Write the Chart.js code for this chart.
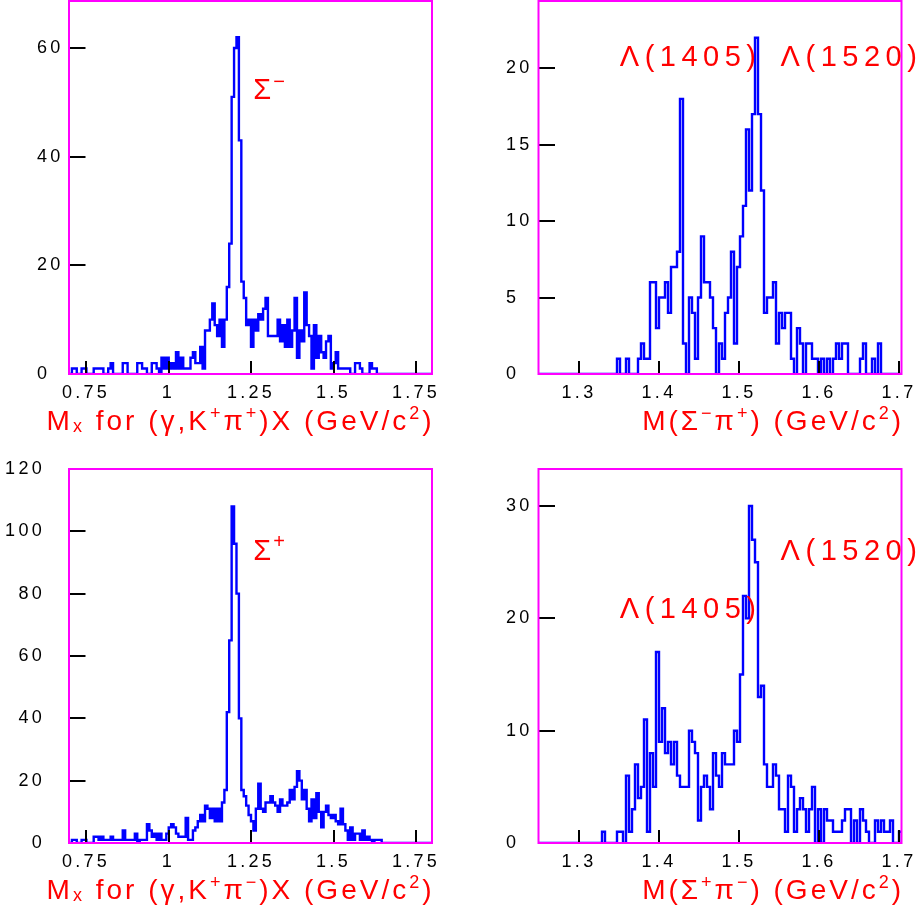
<!DOCTYPE html>
<html>
<head>
<meta charset="utf-8">
<script src="https://cdn.jsdelivr.net/npm/chart.js@4/dist/chart.umd.min.js"></script>
<style>
  html, body { margin: 0; padding: 0; background: #fff; }
  #wrap { position: relative; width: 923px; height: 913px; overflow: hidden; }
  #wrap canvas { position: absolute; }
</style>
</head>
<body>
<div id="wrap">
  <canvas id="chSmKp" width="461" height="456" style="left:0;top:0"></canvas>
  <canvas id="chSmPip" width="462" height="456" style="left:461px;top:0"></canvas>
  <canvas id="chSpKm" width="461" height="457" style="left:0;top:456px"></canvas>
  <canvas id="chSpPim" width="462" height="457" style="left:461px;top:456px"></canvas>
</div>
<script>
/* Missing mass / invariant mass histograms, redrawn with Chart.js */

// Mx panels: 150 bins from 0.7 to 1.8
var MX_MIN = 0.7, MX_MAX = 1.8, MX_NBIN = 150;
// Sigma-pi panels: bins of 3.75 MeV from 1.25
var SP_MIN = 1.25, SP_BIN = 0.00375;

// Mx for (gamma,K+pi+)X
var mxKpPip = [
  0, 1, 1, 0, 0, 1, 1, 0, 0, 0,
  1, 1, 1, 1, 0, 0, 1, 2, 0, 0,
  0, 0, 2, 2, 0, 0, 0, 0, 2, 2,
  1, 1, 0, 0, 2, 2, 1, 0, 3, 1,
  3, 1, 2, 1, 4, 1, 3, 1, 1, 1,
  3, 4, 2, 2, 5, 1, 8, 8, 10, 13,
  9, 7, 10, 5, 10, 16, 24, 51, 60, 62,
  43, 17, 14, 9, 10, 5, 10, 8, 11, 10,
  12, 14, 7, 7, 7, 7, 10, 6, 9, 5,
  10, 5, 8, 14, 3, 8, 6, 15, 9, 7,
  1, 9, 3, 7, 4, 3, 6, 7, 1, 2,
  4, 1, 1, 1, 1, 1, 0, 0, 2, 2,
  1, 0, 0, 0, 2, 1, 1, 0, 0, 0,
  0, 0, 0, 0, 0, 0, 0, 0, 0, 0,
  0, 0, 0, 0, 0, 0, 0, 0, 0, 0
];

// Mx for (gamma,K+pi-)X
var mxKpPim = [
  0, 1, 1, 0, 0, 1, 1, 0, 0, 0,
  2, 2, 1, 2, 1, 1, 1, 2, 1, 1,
  1, 1, 4, 1, 1, 1, 1, 3, 0, 1,
  1, 1, 6, 4, 2, 3, 1, 3, 1, 1,
  3, 5, 6, 5, 3, 2, 2, 2, 8, 1,
  1, 4, 5, 7, 9, 7, 12, 11, 8, 11,
  7, 11, 7, 13, 17, 42, 65, 108, 96, 80,
  40, 17, 15, 12, 9, 7, 4, 11, 19, 11,
  10, 13, 13, 15, 13, 12, 10, 14, 12, 12,
  13, 17, 14, 18, 23, 20, 14, 17, 11, 7,
  14, 8, 16, 10, 5, 10, 12, 9, 8, 9,
  7, 6, 11, 6, 4, 1, 5, 1, 3, 3,
  1, 4, 1, 2, 1, 0, 1, 1, 1, 0,
  0, 0, 0, 0, 0, 0, 0, 0, 0, 0,
  0, 0, 0, 0, 0, 0, 0, 0, 0, 0
];

// M(Sigma- pi+)
var mSmPip = [
  0, 0, 0, 0, 0, 0, 0, 0, 0, 0,
  0, 0, 0, 0, 0, 0, 0, 0, 0, 0,
  0, 0, 0, 0, 0, 0, 1, 0, 0, 1,
  0, 0, 0, 1, 2, 1, 1, 6, 6, 3,
  5, 5, 6, 4, 7, 7, 8, 18, 2, 0,
  5, 4, 1, 5, 9, 6, 6, 5, 3, 0,
  2, 1, 4, 5, 8, 2, 7, 9, 11, 16,
  12, 17, 22, 17, 12, 4, 5, 5, 6, 2,
  4, 3, 4, 4, 1, 0, 3, 2, 0, 2,
  2, 1, 1, 0, 1, 0, 1, 0, 1, 2,
  1, 2, 2, 0, 0, 0, 0, 1, 2, 0,
  0, 1, 0, 2, 0, 0, 0, 0, 0, 0,
  0
];

// M(Sigma+ pi-)
var mSpPim = [
  0, 0, 0, 0, 0, 0, 0, 0, 0, 0,
  0, 0, 0, 0, 0, 0, 0, 0, 0, 0,
  0, 1, 0, 0, 0, 0, 1, 1, 0, 6,
  1, 3, 7, 4, 5, 11, 1, 8, 5, 17,
  9, 12, 8, 9, 7, 9, 6, 5, 5, 5,
  10, 9, 8, 2, 5, 6, 5, 3, 8, 6,
  5, 8, 7, 7, 7, 10, 9, 15, 22, 20,
  30, 27, 25, 13, 14, 7, 5, 5, 7, 6,
  3, 3, 1, 6, 5, 1, 3, 4, 3, 1,
  3, 5, 0, 3, 0, 3, 2, 2, 1, 1,
  1, 2, 3, 3, 0, 2, 0, 3, 2, 1,
  0, 0, 2, 1, 2, 1, 1, 2, 0, 0,
  1
];

var mxTicks = [0.75, 1, 1.25, 1.5, 1.75];
var spTicks = [1.3, 1.4, 1.5, 1.6, 1.7];
var yTicksSmKp = [0, 20, 40, 60];
var yTicksSpKm = [0, 20, 40, 60, 80, 100, 120];
var yTicksSmPip = [0, 5, 10, 15, 20];
var yTicksSpPim = [0, 10, 20, 30];

// titulos: [texto, 'sup' | 'sub']
var tituloKpPip = [['M'], ['x', 'sub'], [' for (γ,K'], ['+', 'sup'], ['π'], ['+', 'sup'], [')X (GeV/c'], ['2', 'sup'], [')']];
var tituloKpPim = [['M'], ['x', 'sub'], [' for (γ,K'], ['+', 'sup'], ['π'], ['−', 'sup'], [')X (GeV/c'], ['2', 'sup'], [')']];
var tituloSmPip = [['M(Σ'], ['−', 'sup'], ['π'], ['+', 'sup'], [') (GeV/c'], ['2', 'sup'], [')']];
var tituloSpPim = [['M(Σ'], ['+', 'sup'], ['π'], ['−', 'sup'], [') (GeV/c'], ['2', 'sup'], [')']];

var ROJO = '#ff0000';
var AZUL = '#0000ff';
var MAGENTA = '#ff00ff';
var FUENTE = '"Liberation Sans", Arial, sans-serif';

// marco magenta y marcas de los ejes hacia adentro
var marco = {
  id: 'marco',
  beforeDraw: function (chart) { chart.ctx.letterSpacing = '3.3px'; },
  afterDatasetsDraw: function (chart) {
    var ctx = chart.ctx, a = chart.chartArea;
    var xs = chart.scales.x, ys = chart.scales.y;
    ctx.save();
    ctx.strokeStyle = '#000';
    ctx.lineWidth = 2;
    ctx.beginPath();
    xs.ticks.forEach(function (t) {
      var px = Math.round(xs.getPixelForValue(t.value));
      ctx.moveTo(px, a.bottom); ctx.lineTo(px, a.bottom - 13);
    });
    ys.ticks.forEach(function (t) {
      var py = Math.round(ys.getPixelForValue(t.value));
      ctx.moveTo(a.left, py); ctx.lineTo(a.left + 16, py);
    });
    ctx.stroke();
    ctx.strokeStyle = MAGENTA;
    ctx.lineWidth = 2;
    ctx.strokeRect(a.left - 0.5, a.top, a.right - a.left, a.bottom - a.top);
    ctx.restore();
  }
};

function dibujaTitulo(ctx, segs, right, y) {
  var grande = '28px ' + FUENTE, chica = '18px ' + FUENTE;
  ctx.save();
  ctx.fillStyle = ROJO;
  ctx.textAlign = 'left';
  ctx.textBaseline = 'middle';
  ctx.letterSpacing = '3px';
  var w = 0;
  segs.forEach(function (s) { ctx.font = s[1] ? chica : grande; w += ctx.measureText(s[0]).width; });
  var x = right - w;
  segs.forEach(function (s) {
    ctx.font = s[1] ? chica : grande;
    var dy = s[1] === 'sup' ? -8 : (s[1] === 'sub' ? 5 : 0);
    ctx.fillText(s[0], x, y + dy);
    x += ctx.measureText(s[0]).width;
  });
  ctx.restore();
}

// etiquetas rojas (Sigma, Lambda) en coordenadas de datos + titulo del eje x
var notas = {
  id: 'notas',
  afterDraw: function (chart, args, opts) {
    var ctx = chart.ctx, a = chart.chartArea;
    (opts.items || []).forEach(function (n) {
      var x = chart.scales.x.getPixelForValue(n.x);
      var y = chart.scales.y.getPixelForValue(n.y);
      ctx.save();
      ctx.fillStyle = ROJO;
      ctx.textAlign = 'left';
      ctx.textBaseline = 'middle';
      ctx.letterSpacing = (n.spacing || 0) + 'px';
      ctx.font = n.size + 'px ' + FUENTE;
      ctx.fillText(n.text, x, y);
      if (n.sup) {
        ctx.font = '20px ' + FUENTE;
        ctx.fillText(n.sup, x + 20, y - 9);
      }
      ctx.restore();
    });
    if (opts.titulo) dibujaTitulo(ctx, opts.titulo, a.right + 2, a.bottom + 48);
  }
};

function panel(id, o) {
  var pts = o.counts.map(function (c, i) { return { x: o.min + i * o.bin, y: c }; });
  pts.push({ x: o.min + o.counts.length * o.bin, y: 0 });

  new Chart(document.getElementById(id), {
    type: 'line',
    data: { datasets: [{ data: pts, stepped: 'before', borderColor: AZUL, borderWidth: 2.4,
      pointRadius: 0, fill: false, tension: 0 }] },
    options: {
      responsive: false, animation: false, events: [], devicePixelRatio: 1,
      layout: { padding: o.pad },
      plugins: { legend: { display: false }, tooltip: { enabled: false },
        notas: { items: o.notes, titulo: o.title } },
      scales: {
        x: {
          type: 'linear', min: o.xMin, max: o.xMax,
          grid: { display: false, drawTicks: false }, border: { display: false },
          afterBuildTicks: function (s) { s.ticks = o.xTicks.map(function (v) { return { value: v }; }); },
          afterFit: function (s) { s.height = 62; s.paddingLeft = 0; s.paddingRight = 0; },
          ticks: { autoSkip: false, maxRotation: 0, padding: 8, color: '#000',
            font: { family: FUENTE, size: 18 }, callback: function (v) { return String(v); } },
          title: { display: false }
        },
        y: {
          type: 'linear', min: 0, max: o.yMax,
          grid: { display: false, drawTicks: false }, border: { display: false },
          afterBuildTicks: function (s) { s.ticks = o.yTicks.map(function (v) { return { value: v }; }); },
          afterFit: function (s) { s.width = o.yWidth; s.paddingTop = 0; s.paddingBottom = 0; },
          ticks: { autoSkip: false, crossAlign: o.yAlign, padding: o.yPad, color: '#000',
            font: { family: FUENTE, size: 18 } }
        }
      }
    },
    plugins: [marco, notas]
  });
}

panel('chSmKp', {
  counts: mxKpPip, min: MX_MIN, bin: (MX_MAX - MX_MIN) / MX_NBIN,
  xMin: MX_MIN, xMax: MX_MAX, xTicks: mxTicks, yMax: 68.65, yTicks: yTicksSmKp,
  pad: { left: 37, right: 28.5, top: 1, bottom: 20 }, yWidth: 32.5, yAlign: 'far', yPad: 0,
  title: tituloKpPip,
  notes: [{ text: 'Σ', sup: '−', x: 1.257, y: 52, size: 29 }]
});

panel('chSmPip', {
  counts: mSmPip, min: SP_MIN, bin: SP_BIN,
  xMin: SP_MIN, xMax: SP_MIN + mSmPip.length * SP_BIN, xTicks: spTicks, yMax: 24.4, yTicks: yTicksSmPip,
  pad: { left: 45, right: 21, top: 1, bottom: 20 }, yWidth: 33, yAlign: 'far', yPad: 0,
  title: tituloSmPip,
  notes: [
    { text: 'Λ(1405)', x: 1.351, y: 20.7, size: 29, spacing: 5.5 },
    { text: 'Λ(1520)', x: 1.552, y: 20.7, size: 29, spacing: 5.5 }
  ]
});

panel('chSpKm', {
  counts: mxKpPim, min: MX_MIN, bin: (MX_MAX - MX_MIN) / MX_NBIN,
  xMin: MX_MIN, xMax: MX_MAX, xTicks: mxTicks, yMax: 120, yTicks: yTicksSpKm,
  pad: { left: 0, right: 28.5, top: 13, bottom: 8 }, yWidth: 69.5, yAlign: 'near', yPad: 24.5,
  title: tituloKpPim,
  notes: [{ text: 'Σ', sup: '+', x: 1.257, y: 93.5, size: 29 }]
});

panel('chSpPim', {
  counts: mSpPim, min: SP_MIN, bin: SP_BIN,
  xMin: SP_MIN, xMax: SP_MIN + mSpPim.length * SP_BIN, xTicks: spTicks, yMax: 33.3, yTicks: yTicksSpPim,
  pad: { left: 45, right: 21, top: 13, bottom: 8 }, yWidth: 33, yAlign: 'far', yPad: 0,
  title: tituloSpPim,
  notes: [
    { text: 'Λ(1405)', x: 1.351, y: 20.74, size: 29, spacing: 5.5 },
    { text: 'Λ(1520)', x: 1.552, y: 25.87, size: 29, spacing: 5.5 }
  ]
});
</script>
</body>
</html>
